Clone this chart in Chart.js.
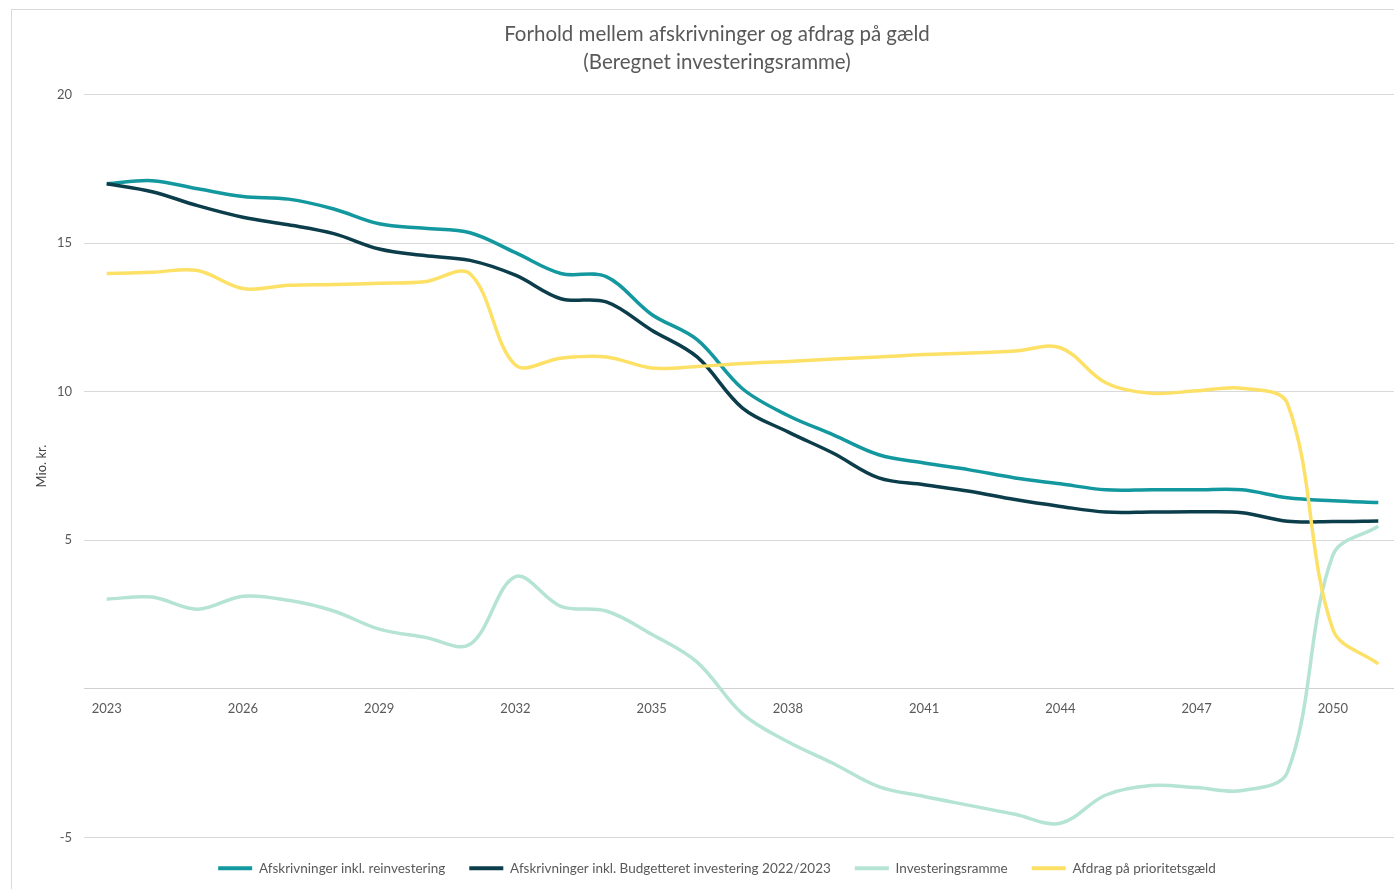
<!DOCTYPE html>
<html>
<head>
<meta charset="utf-8">
<script src="https://cdn.jsdelivr.net/npm/chart.js@4/dist/chart.umd.min.js"></script>
<style>
  html, body { margin: 0; padding: 0; background: #fff; overflow: hidden; }
  #frame { position: absolute; left: 11px; top: 9px; width: 1500px; height: 1000px; border: 1px solid #d9d9d9; }
  #wrap { position: absolute; left: 0; top: 0; width: 1401px; height: 889px; }
</style>
</head>
<body>
<div id="frame"></div>
<div id="wrap"><canvas id="chart"></canvas></div>
<script>
// Årstal
const years = [];
for (let y = 2023; y <= 2051; y++) years.push(String(y));

// Serier (mio. kr.)
const reinvestering = [17.0, 17.1, 16.83, 16.57, 16.48, 16.15, 15.65, 15.5, 15.35, 14.68, 13.98, 13.87, 12.6, 11.75,
  10.1, 9.2, 8.55, 7.88, 7.6, 7.37, 7.1, 6.9, 6.7, 6.7, 6.7, 6.7, 6.43, 6.33, 6.27];
const budgetteret = [17.0, 16.73, 16.26, 15.87, 15.62, 15.32, 14.8, 14.58, 14.42, 13.92, 13.13, 13.02, 12.07, 11.17,
  9.45, 8.65, 7.93, 7.1, 6.87, 6.65, 6.37, 6.14, 5.95, 5.95, 5.96, 5.93, 5.64, 5.63, 5.65];
const investeringsramme = [3.02, 3.09, 2.68, 3.12, 2.98, 2.62, 2.01, 1.74, 1.5, 3.78, 2.78, 2.62, 1.84, 0.9,
  -0.84, -1.78, -2.51, -3.29, -3.62, -3.92, -4.22, -4.52, -3.57, -3.25, -3.32, -3.42, -2.8, 4.5, 5.47];
const afdrag = [13.98, 14.02, 14.08, 13.47, 13.58, 13.61, 13.65, 13.7, 13.97, 10.9, 11.13, 11.17, 10.8, 10.85,
  10.95, 11.02, 11.1, 11.17, 11.25, 11.3, 11.37, 11.48, 10.3, 9.95, 10.03, 10.12, 9.6, 2.0, 0.84];

const yTicks = [-5, 0, 5, 10, 15, 20];

const grey = "#595959";
const fontFam = "Lato, 'Open Sans', sans-serif";

function serie(label, data, color, order) {
  return {
    label: label,
    data: data,
    borderColor: color,
    backgroundColor: color,
    borderWidth: 3.5,
    pointRadius: 0,
    pointHoverRadius: 0,
    tension: 0.35,
    fill: false,
    order: order
  };
}

const ctx = document.getElementById("chart").getContext("2d");
new Chart(ctx, {
  type: "line",
  data: {
    labels: years,
    datasets: [
      serie("Afskrivninger inkl. reinvestering", reinvestering, "#12989e", 3),
      serie("Afskrivninger inkl. Budgetteret investering 2022/2023", budgetteret, "#0b3d4b", 2),
      serie("Investeringsramme", investeringsramme, "#b5e4d4", 1),
      serie("Afdrag på prioritetsgæld", afdrag, "#fde066", 0)
    ]
  },
  options: {
    responsive: true,
    maintainAspectRatio: false,
    animation: false,
    layout: { padding: { left: 33, right: 0, top: 0, bottom: 4 } },
    plugins: {
      title: {
        display: true,
        text: ["Forhold mellem afskrivninger og afdrag på gæld", "(Beregnet investeringsramme)"],
        color: grey,
        font: { family: fontFam, size: 20.5, weight: "normal", lineHeight: 1.33 },
        padding: { top: 21, bottom: 19 }
      },
      legend: {
        position: "bottom",
        labels: {
          color: grey,
          font: { family: fontFam, size: 13.5 },
          boxWidth: 34,
          boxHeight: 4,
          padding: 24,
          sort: (a, b) => a.datasetIndex - b.datasetIndex,
          generateLabels: function(chart) {
            const items = Chart.defaults.plugins.legend.labels.generateLabels(chart);
            items.forEach(it => {
              it.fillStyle = it.strokeStyle;
              it.lineWidth = 0;
            });
            return items;
          }
        }
      },
      tooltip: { enabled: false }
    },
    scales: {
      x: {
        position: { y: 0 },
        offset: true,
        grid: { display: false, drawTicks: true, tickLength: 8 },
        border: { display: true, color: "#d0d0d0", width: 1 },
        ticks: {
          autoSkip: false,
          maxRotation: 0,
          color: grey,
          font: { family: fontFam, size: 13 },
          padding: 4,
          callback: function(value, index) {
            return index % 3 === 0 ? years[index] : "";
          }
        }
      },
      y: {
        min: yTicks[0],
        max: yTicks[yTicks.length - 1],
        afterBuildTicks: function(axis) {
          axis.ticks = yTicks.map(v => ({ value: v }));
        },
        afterFit: function(axis) {
          axis.width = 51;
        },
        grid: { color: "#d9d9d9", drawTicks: false },
        border: { display: false },
        title: {
          display: true,
          text: "Mio. kr.",
          color: "#404040",
          font: { family: fontFam, size: 13 },
          padding: { top: 1, bottom: 0 }
        },
        ticks: {
          color: grey,
          font: { family: fontFam, size: 13 },
          padding: 12,
          callback: function(value) {
            return value === 0 ? "" : value;
          }
        }
      }
    }
  }
});
</script>
</body>
</html>
